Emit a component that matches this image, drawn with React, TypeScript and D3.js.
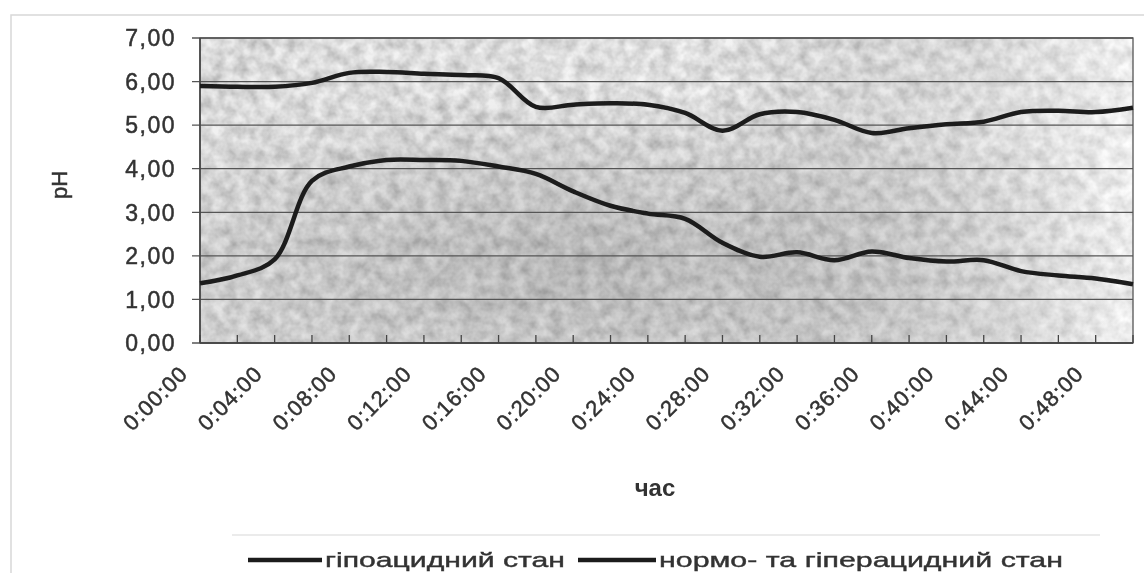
import React from "react";
import * as d3 from "d3";

const categories = [
  "0:00:00", "0:02:00", "0:04:00", "0:06:00", "0:08:00", "0:10:00", "0:12:00",
  "0:14:00", "0:16:00", "0:18:00", "0:20:00", "0:22:00", "0:24:00", "0:26:00",
  "0:28:00", "0:30:00", "0:32:00", "0:34:00", "0:36:00", "0:38:00", "0:40:00",
  "0:42:00", "0:44:00", "0:46:00", "0:48:00", "0:50:00",
];
const hypoacid = [
  5.9, 5.88, 5.88, 5.97, 6.2, 6.22, 6.18, 6.15, 6.08, 5.42, 5.47, 5.5, 5.47,
  5.28, 4.87, 5.25, 5.3, 5.12, 4.82, 4.93, 5.02, 5.08, 5.3, 5.33, 5.3, 5.4,
];
const normoHyper = [
  1.37, 1.55, 1.92, 3.72, 4.05, 4.2, 4.2, 4.18, 4.05, 3.88, 3.48, 3.15, 2.97,
  2.85, 2.3, 1.98, 2.08, 1.9, 2.1, 1.95, 1.87, 1.9, 1.65, 1.55, 1.48, 1.35,
];
const yTicks = [0, 1, 2, 3, 4, 5, 6, 7];
const seriesNames = ["гіпоацидний стан", "нормо- та гіперацидний стан"];
const xTitle = "час";
const yTitle = "pH";

const W = 1144;
const H = 573;
const L = 200, R = 1133, T = 38, B = 343;

export default function App() {
  const x = d3.scalePoint<string>().domain(categories).range([L, R]);
  const y = d3.scaleLinear().domain([0, 7]).range([B, T]);
  const line = d3
    .line<number>()
    .x((_, i) => x(categories[i]) as number)
    .y((d) => y(d))
    .curve(d3.curveCatmullRom.alpha(0.5));
  const font = "'Liberation Sans', Arial, sans-serif";
  const txt = "#333";
  const sw = 0.5;
  const fmt = (v: number) => v.toFixed(2).replace(".", ",");

  return (
    <svg
      width={W}
      height={H}
      style={{ position: "absolute", left: 0, top: 0, background: "#fff" }}
    >
      <defs>
        <filter id="noise" x="0" y="0" width="100%" height="100%">
          <feTurbulence type="fractalNoise" baseFrequency="0.08" numOctaves="3" seed="7" />
          <feColorMatrix
            type="matrix"
            values="0.7 0 0 0 0.45  0.7 0 0 0 0.45  0.7 0 0 0 0.45  0 0 0 0 1"
          />
        </filter>
        <radialGradient id="shade" cx="0.42" cy="0.75" r="0.6">
          <stop offset="0" stopColor="#000" stopOpacity="0.18" />
          <stop offset="1" stopColor="#000" stopOpacity="0" />
        </radialGradient>
        <linearGradient id="lr" x1="0" x2="1" y1="0" y2="0">
          <stop offset="0" stopColor="#000" stopOpacity="0.06" />
          <stop offset="0.55" stopColor="#000" stopOpacity="0.04" />
          <stop offset="1" stopColor="#fff" stopOpacity="0.3" />
        </linearGradient>
        <filter id="soft">
          <feGaussianBlur stdDeviation="0.6" />
        </filter>
      </defs>

      {/* outer chart frame (faint) */}
      <rect x={11} y={15} width={W + 20} height={H + 20} fill="none" stroke="#d8d8d8" strokeWidth={1.5} />

      {/* plot area */}
      <rect x={L} y={T} width={R - L} height={B - T} filter="url(#noise)" />
      <rect x={L} y={T} width={R - L} height={B - T} fill="url(#shade)" />
      <rect x={L} y={T} width={R - L} height={B - T} fill="url(#lr)" />

      <g filter="url(#soft)">
        {/* gridlines */}
        {yTicks.map((t) => (
          <line key={t} x1={L - 8} x2={R} y1={y(t)} y2={y(t)} stroke="#555" strokeWidth={1.3} />
        ))}
        <rect x={L} y={T} width={R - L} height={B - T} fill="none" stroke="#555" strokeWidth={1.3} />
        <line x1={L} x2={L} y1={T} y2={B} stroke="#444" strokeWidth={1.5} />
        <line x1={L} x2={R} y1={B} y2={B} stroke="#444" strokeWidth={1.5} />

        {/* x ticks */}
        {categories.map((c) => (
          <line key={c} x1={x(c)} x2={x(c)} y1={B} y2={B - 8} stroke="#444" strokeWidth={1.3} />
        ))}

        {/* series */}
        <path d={line(hypoacid) || ""} fill="none" stroke="#1c1c1c" strokeWidth={4.5} strokeLinejoin="round" />
        <path d={line(normoHyper) || ""} fill="none" stroke="#1c1c1c" strokeWidth={4.5} strokeLinejoin="round" />

        {/* y labels */}
        {yTicks.map((t) => (
          <text
            key={t}
            x={176}
            y={y(t)}
            dy="0.36em"
            textAnchor="end"
            fontFamily={font}
            fontSize={23}
            letterSpacing={1.5}
            fill={txt}
            stroke={txt}
            strokeWidth={sw}
          >
            {fmt(t)}
          </text>
        ))}

        {/* x labels */}
        {categories.map((c, i) =>
          i % 2 === 0 ? (
            <text
              key={c}
              transform={`translate(${(x(c) as number) - 22},${364}) rotate(-45)`}
              dy="0.72em"
              textAnchor="end"
              fontFamily={font}
              fontSize={22}
              letterSpacing={1}
              fill={txt}
              stroke={txt}
              strokeWidth={sw}
            >
              {c}
            </text>
          ) : null
        )}

        {/* axis titles */}
        <text x={655} y={496} textAnchor="middle" fontFamily={font} fontWeight="bold" fontSize={24} fill={txt}>
          {xTitle}
        </text>
        <text
          transform="translate(67,185) rotate(-90)"
          textAnchor="middle"
          fontFamily={font}
          fontSize={22}
          fill={txt}
          stroke={txt}
          strokeWidth={sw}
        >
          {yTitle}
        </text>

        {/* legend */}
        <line x1={232} x2={1100} y1={535} y2={535} stroke="#e4e4e4" strokeWidth={1.5} />
        <line x1={248} x2={322} y1={560} y2={560} stroke="#1c1c1c" strokeWidth={4.5} />
        <text x={325} y={567} fontFamily={font} fontSize={21} fill={txt} stroke={txt} strokeWidth={0.4} textLength={240} lengthAdjust="spacingAndGlyphs">
          {seriesNames[0]}
        </text>
        <line x1={578} x2={656} y1={560} y2={560} stroke="#1c1c1c" strokeWidth={4.5} />
        <text x={659} y={567} fontFamily={font} fontSize={21} fill={txt} stroke={txt} strokeWidth={0.4} textLength={404} lengthAdjust="spacingAndGlyphs">
          {seriesNames[1]}
        </text>
      </g>
    </svg>
  );
}
